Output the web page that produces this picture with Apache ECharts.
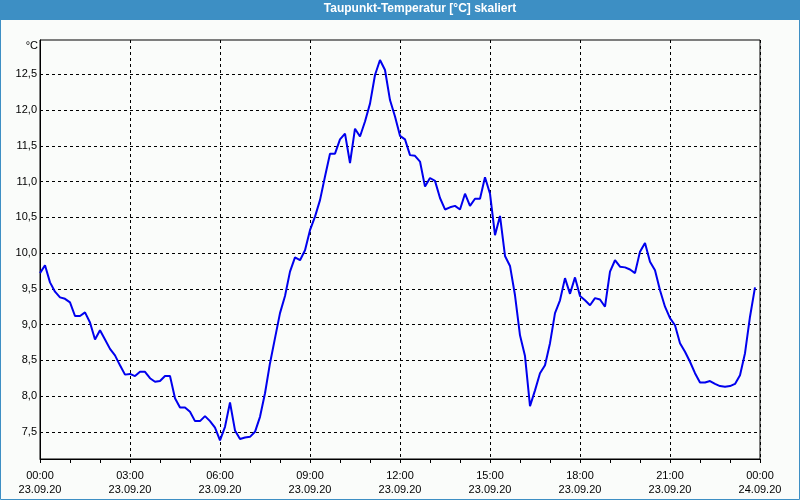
<!DOCTYPE html>
<html>
<head>
<meta charset="utf-8">
<script src="https://cdn.jsdelivr.net/npm/echarts@6/dist/echarts.min.js"></script>
<style>
html,body{margin:0;padding:0;background:#fafcfa;}
#chart{width:800px;height:500px;}
</style>
</head>
<body>
<div id="chart"></div>
<script>
// Sampling: one value every 10 minutes starting 23.09.20 00:00
const stepMinutes = 10;
const dewPoint = [
  9.72, 9.83, 9.59, 9.46, 9.38, 9.36, 9.31, 9.12, 9.12, 9.17, 9.03, 8.79,
  8.92, 8.79, 8.66, 8.57, 8.43, 8.30, 8.31, 8.28, 8.34, 8.34, 8.25, 8.20,
  8.21, 8.28, 8.28, 7.97, 7.84, 7.84, 7.78, 7.65, 7.65, 7.72, 7.65, 7.56,
  7.38, 7.57, 7.91, 7.52, 7.40, 7.42, 7.43, 7.50, 7.71, 8.04, 8.46, 8.81,
  9.16, 9.40, 9.74, 9.94, 9.90, 10.04, 10.32, 10.51, 10.74, 11.07, 11.39, 11.39,
  11.59, 11.67, 11.26, 11.74, 11.63, 11.84, 12.09, 12.49, 12.70, 12.56, 12.14, 11.91,
  11.64, 11.59, 11.37, 11.36, 11.28, 10.93, 11.05, 11.01, 10.77, 10.61, 10.64, 10.66,
  10.61, 10.83, 10.66, 10.76, 10.76, 11.06, 10.83, 10.25, 10.52, 9.96, 9.82, 9.41,
  8.85, 8.56, 7.86, 8.08, 8.32, 8.43, 8.74, 9.16, 9.34, 9.65, 9.43, 9.66,
  9.40, 9.34, 9.27, 9.37, 9.35, 9.25, 9.74, 9.90, 9.81, 9.80, 9.77, 9.72,
  10.02, 10.14, 9.88, 9.76, 9.48, 9.25, 9.09, 8.99, 8.74, 8.62, 8.48, 8.32,
  8.19, 8.19, 8.21, 8.17, 8.14, 8.13, 8.14, 8.17, 8.29, 8.60, 9.11, 9.52
];
const yTickValues = [7.5, 8.0, 8.5, 9.0, 9.5, 10.0, 10.5, 11.0, 11.5, 12.0, 12.5];
const xDayLabels = ['23.09.20', '24.09.20'];
const titleText = 'Taupunkt-Temperatur [°C] skaliert';
const unitText = '°C';

const seriesData = dewPoint.map((v, i) => [i * stepMinutes, v]);

const chart = echarts.init(document.getElementById('chart'), null, {renderer: 'canvas'});
const font = 'Liberation Sans';
chart.setOption({
  animation: false,
  backgroundColor: '#fafcfa',
  graphic: [
    {type: 'rect', shape: {x: 0, y: 0, width: 800, height: 20}, style: {fill: '#3d8fc4'}, z: 0},
    {type: 'rect', shape: {x: 0.5, y: 0.5, width: 799, height: 499}, style: {fill: 'none', stroke: '#3d8fc4', lineWidth: 1}, z: 0}
  ],
  title: {
    text: titleText,
    left: 420,
    top: 3,
    textAlign: 'center',
    padding: 0,
    textStyle: {color: '#ffffff', fontFamily: font, fontWeight: 'bold', fontSize: 12}
  },
  grid: {left: 40, right: 40, top: 40, bottom: 41, show: true, borderColor: '#000', borderWidth: 1, backgroundColor: 'transparent'},
  xAxis: {
    type: 'value',
    min: 0,
    max: 1440,
    interval: 180,
    axisLine: {show: true, lineStyle: {color: '#000', width: 1}},
    axisTick: {show: true, inside: false, length: 4, lineStyle: {color: '#000'}},
    minorTick: {show: true, splitNumber: 3, length: 4, lineStyle: {color: '#000'}},
    splitLine: {show: true, lineStyle: {color: '#000', type: [3, 3], width: 1}},
    axisLabel: {
      color: '#000', fontFamily: font, fontSize: 11, margin: 10, lineHeight: 14,
      showMinLabel: true, showMaxLabel: true,
      formatter: function (m) {
        const day = Math.floor(m / 1440);
        const mm = m % 1440;
        const h = String(Math.floor(mm / 60)).padStart(2, '0');
        const mi = String(mm % 60).padStart(2, '0');
        return h + ':' + mi + '\n' + xDayLabels[day];
      }
    }
  },
  yAxis: {
    type: 'value',
    min: 7.12,
    max: 12.98,
    name: unitText,
    nameLocation: 'end',
    nameGap: -6,
    nameTextStyle: {color: '#000', fontFamily: font, fontSize: 11, align: 'right', verticalAlign: 'middle', padding: [0, 2, 0, 0]},
    axisLine: {show: true, lineStyle: {color: '#000', width: 1}},
    axisTick: {show: false, customValues: yTickValues},
    splitLine: {show: true, lineStyle: {color: '#000', type: [3, 3], width: 1}},
    axisLabel: {
      color: '#000', fontFamily: font, fontSize: 11, margin: 3,
      customValues: yTickValues,
      formatter: v => v.toFixed(1).replace('.', ',')
    }
  },
  series: [{
    type: 'line',
    data: seriesData,
    showSymbol: false,
    lineStyle: {color: '#0000ee', width: 2},
    itemStyle: {color: '#0000ee'}
  }]
});
</script>
</body>
</html>
